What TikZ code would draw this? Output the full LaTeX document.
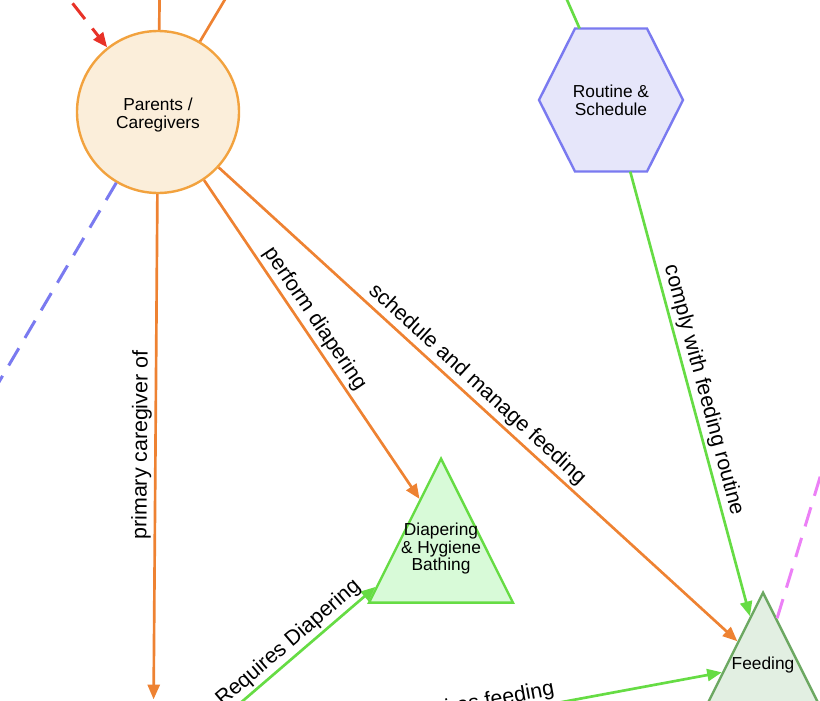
\documentclass[tikz,border=0pt]{standalone}
\usepackage{fontspec}
\setmainfont{Liberation Sans}
\usetikzlibrary{shapes.geometric,arrows.meta}
\definecolor{orangeline}{RGB}{238,130,50}
\definecolor{circleline}{RGB}{242,162,62}
\definecolor{circlefill}{RGB}{251,238,218}
\definecolor{redline}{RGB}{232,50,40}
\definecolor{blueline}{RGB}{122,122,240}
\definecolor{hexfill}{RGB}{230,230,250}
\definecolor{greenline}{RGB}{102,220,68}
\definecolor{diaperfill}{RGB}{216,250,216}
\definecolor{feedline}{RGB}{108,168,98}
\definecolor{feedfill}{RGB}{226,239,226}
\definecolor{pinkline}{RGB}{236,128,246}
\newcommand{\stacktext}[1]{\makebox[0pt]{\begin{tabular}[t]{@{}c@{}}#1\end{tabular}}}
\begin{document}
\begin{tikzpicture}[x=0.75pt, y=-0.75pt,
            nodetext/.style={font=\fontsize{13}{13}\selectfont, inner sep=0pt, text height=20pt},
            tri/.style={nodetext, isosceles triangle, isosceles triangle apex angle=53.13,
            shape border rotate=90, text height=57.5pt, text depth=50.5pt,
            line width=1.8pt, anchor=apex},
            link/.style={line width=2pt, -{Triangle[length=11pt,width=9pt]}},
            bare/.style={line width=2pt},
            dashlink/.style={line width=2.25pt, dash pattern=on 15pt off 9pt},
            lbl/.style={font=\fontsize{16}{16}\selectfont, text=black, sloped, above, midway, inner sep=2pt}]
            \clip (0,0) rectangle (820,700);
            % nodes
            \node[nodetext, text depth=22.2pt, circle, draw=circleline, fill=circlefill, line width=1.8pt,
            minimum size=121.5pt] (parents) at (158,112) {\stacktext{Parents /\\Caregivers}};
            \coordinate (rc) at (611,100);
            \filldraw[draw=blueline, fill=hexfill, line width=1.8pt] ([shift={(-72,0)}]rc)
            -- ++(36,-71.5) -- ++(72,0) -- ++(36,71.5) -- ++(-36,71.5) -- ++(-72,0) -- cycle;
            \node[nodetext, text depth=23.8pt, minimum width=108pt, minimum height=107pt] (routine) at (rc) {\stacktext{Routine \&\\Schedule}};
            \node[tri, draw=greenline, fill=diaperfill] (diaper) at (441,456) {\stacktext{Diapering\\\& Hygiene\\Bathing}};
            \node[tri, draw=feedline, fill=feedfill] (feeding) at (763,590) {\stacktext{Feeding}};
            % ends outside the frame
            \coordinate (baby) at (153,778);
            \coordinate (redsrc) at (33,-47);
            \coordinate (topA) at (161,-100);
            \coordinate (topB) at (258,-56);
            \coordinate (bluesrc) at (-47,460);
            \coordinate (greensrc) at (523,-100);
            \coordinate (pinksrc) at (877,290);
            % connectors
            \draw[dashlink, redline, -{Triangle[length=11pt,width=9pt]}] (redsrc) -- (parents);
            \draw[bare, orangeline] (topA) -- (parents);
            \draw[bare, orangeline] (topB) -- (parents);
            \draw[dashlink, blueline] (parents) -- (bluesrc);
            \draw[link, orangeline, shorten >=59pt] (parents) -- node[lbl, pos=0.43]{primary caregiver of} (baby);
            \draw[link, orangeline] (parents) -- node[lbl, pos=0.46]{perform diapering} (diaper);
            \draw[link, orangeline] (parents) -- node[lbl, pos=0.48]{schedule and manage feeding} (feeding);
            \draw[bare, greenline] (greensrc) -- (routine);
            \draw[link, greenline] (routine) -- node[lbl]{comply with feeding routine} (feeding);
            \draw[link, greenline] (baby) -- node[lbl, pos=0.65]{Requires Diapering} (diaper);
            \draw[link, greenline] (baby) -- node[lbl, pos=0.57]{Requires feeding} (feeding);
            \draw[dashlink, pinkline] (feeding) -- (pinksrc);
\end{tikzpicture}
\end{document}
